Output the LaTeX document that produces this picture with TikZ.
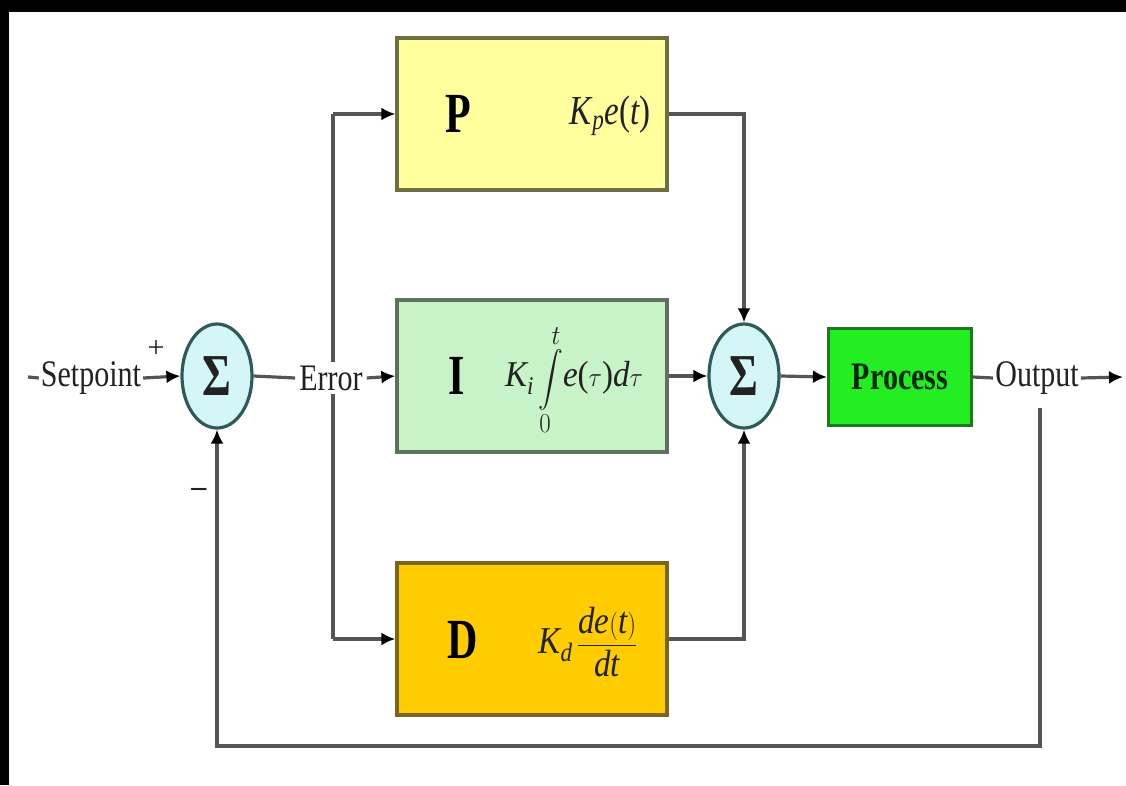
\documentclass[tikz,border=0pt]{standalone}
\usepackage{fontspec}
\setmainfont{Liberation Serif}
\usepackage{amsmath}
\usepackage{graphicx}
\usetikzlibrary{arrows.meta,shapes.geometric}
\definecolor{pfill}{HTML}{FFFF9E}
\definecolor{pborder}{HTML}{6E6E40}
\definecolor{ifill}{HTML}{C8F2C8}
\definecolor{iborder}{HTML}{5E705E}
\definecolor{dfill}{HTML}{FFCC00}
\definecolor{dborder}{HTML}{7A6420}
\definecolor{procfill}{HTML}{22EE22}
\definecolor{procborder}{HTML}{1E7A1E}
\definecolor{sumfill}{HTML}{D4F6F6}
\definecolor{sumborder}{HTML}{2E5A5A}
\definecolor{linegray}{HTML}{555555}
\definecolor{txt}{HTML}{222222}
\newcommand\vsc[2]{\scalebox{1}[#1]{#2}}
\begin{document}
\begin{tikzpicture}[x=1pt,y=-1pt,
  ln/.style={draw=linegray,line width=3.2pt},
  arr/.style={-{Latex[length=14pt,width=13pt,color=black]}},
  blk/.style={rectangle,line width=3.2pt,minimum width=270pt,minimum height=152pt,inner sep=0pt},
  sumnode/.style={ellipse,draw=sumborder,fill=sumfill,line width=3.2pt,minimum width=70pt,minimum height=104pt,inner sep=0pt,text=txt,font=\fontsize{44}{44}\selectfont\bfseries},
  lbl/.style={text=txt,inner sep=2pt,font=\fontsize{30}{30}\selectfont},
  bigl/.style={text=black,inner sep=0pt,font=\fontsize{42}{42}\selectfont\bfseries},
  mth/.style={text=txt,inner sep=0pt,font=\fontsize{33}{36}\selectfont},
  sgn/.style={text=txt,inner sep=0pt,font=\fontsize{30}{30}\selectfont}
]
\useasboundingbox (0,0) rectangle (1126,785);
\fill[white] (0,0) rectangle (1126,785);
\fill[black] (0,0) rectangle (1126,12);
\fill[black] (0,0) rectangle (9,785);

% branch line (drawn first so the Error label covers it)
\coordinate (bt) at (333,114);
\coordinate (bb) at (333,639);
\draw[ln] (bt) -- (bb);

% blocks
\node[blk,fill=pfill,draw=pborder] (P) at (532,114) {};
\node[blk,fill=ifill,draw=iborder] (I) at (532,376) {};
\node[blk,fill=dfill,draw=dborder] (D) at (532,639) {};
\node[rectangle,fill=procfill,draw=procborder,line width=3.2pt,minimum width=143pt,minimum height=97pt,inner sep=0pt,text=black!85!green,font=\fontsize{30}{30}\selectfont\bfseries] (proc) at (900,377) {\vsc{1.3}{Process}};

% summing junctions
\node[sumnode] (s1) at (217,376) {\vsc{1.35}{Σ}};
\node[sumnode] (s2) at (744,376) {\vsc{1.35}{Σ}};

% block contents
\node[bigl] (Pl) at (458,114) {\vsc{1.35}{P}};
\node[mth] (Pm) at (610,116) {\vsc{1.25}{\textit{K}\textsubscript{\textit{p}}\textit{e}(\textit{t})}};
\node[bigl] (Il) at (457,376) {\vsc{1.35}{I}};
\node[mth] (Im) at (574,380) {\vsc{1.1}{$\textit{K}_{\textit{i}}\displaystyle\int\limits_{0}^{t}$\textit{e}($\tau$)\textit{d}$\tau$}};
\node[bigl] (Dl) at (463,640) {\vsc{1.35}{D}};
\node[mth] (Dm) at (588,642) {\vsc{1.15}{$\textit{K}_{\textit{d}}\,\dfrac{\textit{de}(\textit{t})}{\textit{dt}}$}};

% labels
\coordinate (spin) at (28,377);
\node[lbl] (sp) at (91,378) {\vsc{1.25}{Setpoint}};
\node[sgn] (plus) at (156,349) {+};
\node[sgn] (minus) at (199,492) {\textbf{–}};
\node[lbl,fill=white,inner sep=4pt] (err) at (331,378) {\vsc{1.25}{Error}};
\node[lbl] (out) at (1037,378) {\vsc{1.25}{Output}};
\coordinate (oend) at (1123,377);
\coordinate (fbtop) at (1040,408);
\coordinate (fbbot) at (1040,746);

% connectors
\draw[ln] (spin) -- (sp.west);
\draw[ln,arr] (sp.east) -- (s1.west);
\draw[ln] (s1.east) -- (err.west);
\draw[ln,arr] (err.east) -- (I.west);
\draw[ln,arr] (bt) -- (P.west);
\draw[ln,arr] (bb) -- (D.west);
\draw[ln,arr] (P.east) -| (s2.north);
\draw[ln,arr] (I.east) -- (s2.west);
\draw[ln,arr] (D.east) -| (s2.south);
\draw[ln,arr] (s2.east) -- (proc.west);
\draw[ln] (proc.east) -- (out.west);
\draw[ln,arr] (out.east) -- (oend);
\draw[ln,arr] (fbtop) -- (fbbot) -| (s1.south);
\end{tikzpicture}
\end{document}
